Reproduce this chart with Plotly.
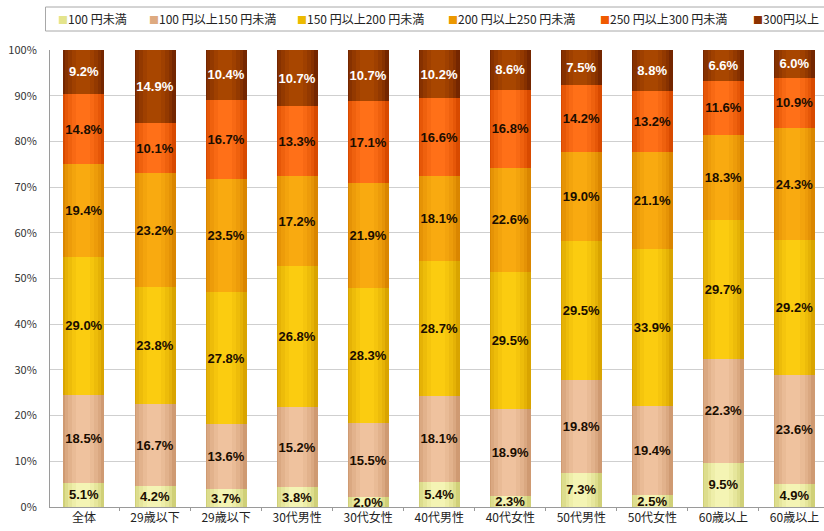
import plotly.graph_objects as go

# Categories (respondent groups) and price-band series, values in %
categories = ["全体", "29歳以下", "29歳以下", "30代男性", "30代女性", "40代男性",
              "40代女性", "50代男性", "50代女性", "60歳以上", "60歳以上"]
series_names = ["100 円未満", "100 円以上150 円未満", "150 円以上200 円未満",
                "200 円以上250 円未満", "250 円以上300 円未満", "300円以上"]

under_100 = [5.1, 4.2, 3.7, 3.8, 2.0, 5.4, 2.3, 7.3, 2.5, 9.5, 4.9]
from_100_to_150 = [18.5, 16.7, 13.6, 15.2, 15.5, 18.1, 18.9, 19.8, 19.4, 22.3, 23.6]
from_150_to_200 = [29.0, 23.8, 27.8, 26.8, 28.3, 28.7, 29.5, 29.5, 33.9, 29.7, 29.2]
from_200_to_250 = [19.4, 23.2, 23.5, 17.2, 21.9, 18.1, 22.6, 19.0, 21.1, 18.3, 24.3]
from_250_to_300 = [14.8, 10.1, 16.7, 13.3, 17.1, 16.6, 16.8, 14.2, 13.2, 11.6, 10.9]
over_300 = [9.2, 14.9, 10.4, 10.7, 10.7, 10.2, 8.6, 7.5, 8.8, 6.6, 6.0]

series_values = [under_100, from_100_to_150, from_150_to_200,
                 from_200_to_250, from_250_to_300, over_300]

# edge and centre colours of each cylinder-shaded bar
edge_colors = ["#d0d078", "#cf9a72", "#d9a400", "#da8600", "#d84a00", "#742600"]
center_colors = ["#f4f4b4", "#efc29e", "#fbcc10", "#f9aa10", "#ff7018", "#a84600"]
swatch_colors = ["#e4e48c", "#deaa80", "#ecba00", "#ec9800", "#f05a00", "#8c3200"]
label_colors = ["#1a0d00", "#1a0d00", "#1a0d00", "#1a0d00", "#1a0d00", "#ffffff"]

y_ticks = list(range(0, 101, 10))
y_tick_labels = [f"{v}%" for v in y_ticks]

x_pos = list(range(len(categories)))
BAR_W = 0.577


def blend(c1, c2, t):
    a = [int(c1[i:i + 2], 16) for i in (1, 3, 5)]
    b = [int(c2[i:i + 2], 16) for i in (1, 3, 5)]
    return "#" + "".join(f"{round(x + (y - x) * t):02x}" for x, y in zip(a, b))


fig = go.Figure()

# base bars (edge colour)
for name, vals, col in zip(series_names, series_values, edge_colors):
    fig.add_trace(go.Bar(
        x=x_pos, y=vals, name=name, width=BAR_W,
        marker=dict(color=col, line=dict(width=0)),
        showlegend=False, hovertemplate="%{y:.1f}%<extra>" + name + "</extra>",
    ))

# progressively narrower, lighter layers shade each bar toward its centre
shade_steps = [(0.88, 0.35), (0.72, 0.6), (0.54, 0.82), (0.34, 1.0)]
axis_no = 2
for frac, t in shade_steps:
    w = BAR_W * frac
    for vals, ec, cc in zip(series_values, edge_colors, center_colors):
        fig.add_trace(go.Bar(
            x=x_pos, y=vals, width=w, offset=-w / 2 - 0.015,
            marker=dict(color=blend(ec, cc, t), line=dict(width=0)),
            showlegend=False, hoverinfo="skip",
            xaxis=f"x{axis_no}", yaxis=f"y{axis_no}",
        ))
    axis_no += 1

# value labels on a transparent top layer
label_axis = axis_no
for vals, tcol in zip(series_values, label_colors):
    fig.add_trace(go.Bar(
        x=x_pos, y=vals, width=BAR_W,
        marker=dict(color="rgba(0,0,0,0)", line=dict(width=0)),
        text=[f"{v:.1f}%" for v in vals],
        textposition="inside", insidetextanchor="middle", textangle=0,
        constraintext="none",
        textfont=dict(family="Liberation Sans", size=13, color=tcol, weight="bold"),
        showlegend=False, hoverinfo="skip",
        xaxis=f"x{label_axis}", yaxis=f"y{label_axis}",
    ))

X_RANGE = [-0.478, 10.415]

layout_axes = {}
for n in range(2, label_axis + 1):
    layout_axes[f"xaxis{n}"] = dict(overlaying="x", matches="x", visible=False,
                                    range=X_RANGE)
    layout_axes[f"yaxis{n}"] = dict(overlaying="y", matches="y", visible=False,
                                    range=[0, 100])

# legend row across the top
PLOT_L, PLOT_W = 49.5, 774.5
PLOT_B, PLOT_H = 507, 457


def px_to_paper_x(px):
    return (px - PLOT_L) / PLOT_W


def px_to_paper_y(py):
    return (PLOT_B - py) / PLOT_H


legend_x_px = [56, 147, 295, 446, 598, 751]
annotations = []
for name, col, lx in zip(series_names, swatch_colors, legend_x_px):
    annotations.append(dict(
        x=px_to_paper_x(lx), y=px_to_paper_y(19), xref="paper", yref="paper",
        xanchor="left", yanchor="middle", showarrow=False,
        text=f"<span style='color:{col};font-size:10px'>■</span>{name}",
        font=dict(family="Noto Sans CJK JP", size=12, color="#222222"),
    ))

fig.update_layout(
    width=824, height=531, autosize=False,
    margin=dict(l=PLOT_L, r=0, t=50, b=24, pad=0),
    paper_bgcolor="white", plot_bgcolor="white",
    barmode="stack", barnorm="percent",
    uniformtext=dict(mode="show", minsize=13),
    showlegend=False,
    xaxis=dict(
        range=X_RANGE, tickmode="array", tickvals=x_pos, ticktext=categories,
        tickfont=dict(family="Noto Sans CJK JP", size=12, color="#222222"),
        showline=True, linecolor="#9a9a9a", linewidth=1, ticks="",
        showgrid=False, zeroline=False,
        minor=dict(ticks="outside", ticklen=3, tick0=0.5, dtick=1,
                   tickcolor="#9a9a9a", showgrid=False),
    ),
    yaxis=dict(
        range=[0, 100], tickmode="array", tickvals=y_ticks, ticktext=y_tick_labels,
        tickfont=dict(family="Noto Sans CJK JP", size=11, color="#333333"),
        showgrid=True, gridcolor="#cfcfcf", gridwidth=1,
        showline=True, linecolor="#9a9a9a", linewidth=1, ticks="",
        ticklabelstandoff=10, zeroline=False,
    ),
    annotations=annotations,
    shapes=[dict(type="rect", xref="paper", yref="paper",
                 x0=px_to_paper_x(45), x1=1.02,
                 y0=px_to_paper_y(31), y1=px_to_paper_y(7),
                 line=dict(color="#a8a8a8", width=1), fillcolor="rgba(0,0,0,0)")],
    **layout_axes,
)

fig.write_html("out.html")
